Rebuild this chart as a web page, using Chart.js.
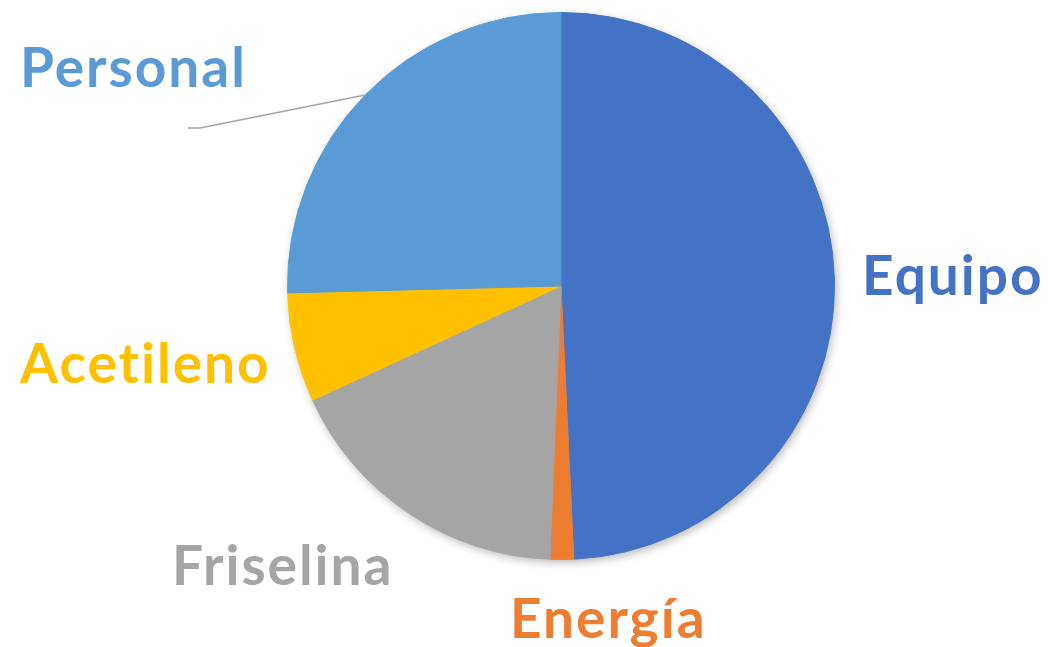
<!DOCTYPE html>
<html>
<head>
<meta charset="utf-8">
<script src="https://cdn.jsdelivr.net/npm/chart.js@4/dist/chart.umd.min.js"></script>
<style>
  html, body { margin: 0; padding: 0; background: #fff; overflow: hidden; }
  #pieChart { display: block; }
</style>
</head>
<body>
<canvas id="pieChart" width="1048" height="647"></canvas>
<script>
// slice data, clockwise from 12 o'clock
const categories = ['Equipo', 'Energía', 'Friselina', 'Acetileno', 'Personal'];
const values = [49.25, 1.39, 17.5, 6.45, 25.4];
const sliceColors = ['#4472C4', '#ED7D31', '#A5A5A5', '#FFC000', '#5B9BD5'];

// label text position (left, baseline) relative to pie centre
const labelOffsets = [[301, 9], [-51, 352], [-389, 299], [-541, 97], [-541, -199]];

// soft shadow under the whole pie
const pieShadow = {
  id: 'pieShadow',
  beforeDatasetsDraw(chart) {
    const arc = chart.getDatasetMeta(0).data[0];
    if (!arc) return;
    const ctx = chart.ctx;
    ctx.save();
    ctx.shadowColor = 'rgba(0,0,0,0.28)';
    ctx.shadowBlur = 9;
    ctx.shadowOffsetX = 2;
    ctx.shadowOffsetY = 3;
    ctx.fillStyle = '#ffffff';
    ctx.beginPath();
    ctx.arc(arc.x, arc.y, arc.outerRadius, 0, Math.PI * 2);
    ctx.fill();
    ctx.restore();
  }
};

const sliceLabels = {
  id: 'sliceLabels',
  afterDatasetsDraw(chart) {
    const ctx = chart.ctx;
    const meta = chart.getDatasetMeta(0);
    ctx.save();
    ctx.font = 'bold 55px Lato, "Open Sans", sans-serif';
    ctx.letterSpacing = '2px'; // also breaks the "ti" ligature
    ctx.textAlign = 'left';
    ctx.textBaseline = 'alphabetic';
    meta.data.forEach((arc, i) => {
      const off = labelOffsets[i];
      ctx.fillStyle = sliceColors[i];
      ctx.fillText(categories[i], arc.x + off[0], arc.y + off[1]);
    });

    // leader line for Personal
    const p = meta.data[4];
    const mid = (p.startAngle + p.endAngle) / 2;
    const ex = p.x + Math.cos(mid) * p.outerRadius;
    const ey = p.y + Math.sin(mid) * p.outerRadius;
    ctx.strokeStyle = '#A6A6A6';
    ctx.lineWidth = 1.5;
    ctx.beginPath();
    ctx.moveTo(p.x - 373, p.y - 158);
    ctx.lineTo(p.x - 361, p.y - 158);
    ctx.lineTo(ex, ey);
    ctx.stroke();
    ctx.restore();
  }
};

const ctx = document.getElementById('pieChart').getContext('2d');
const pieChart = new Chart(ctx, {
  type: 'pie',
  data: {
    labels: categories,
    datasets: [{
      data: values,
      backgroundColor: sliceColors,
      borderColor: sliceColors,
      borderWidth: 1
    }]
  },
  options: {
    responsive: false,
    animation: false,
    layout: {
      padding: { top: 12, bottom: 87, left: 287, right: 213 }
    },
    plugins: {
      legend: { display: false },
      tooltip: { enabled: false }
    }
  },
  plugins: [pieShadow, sliceLabels]
});
</script>
</body>
</html>
